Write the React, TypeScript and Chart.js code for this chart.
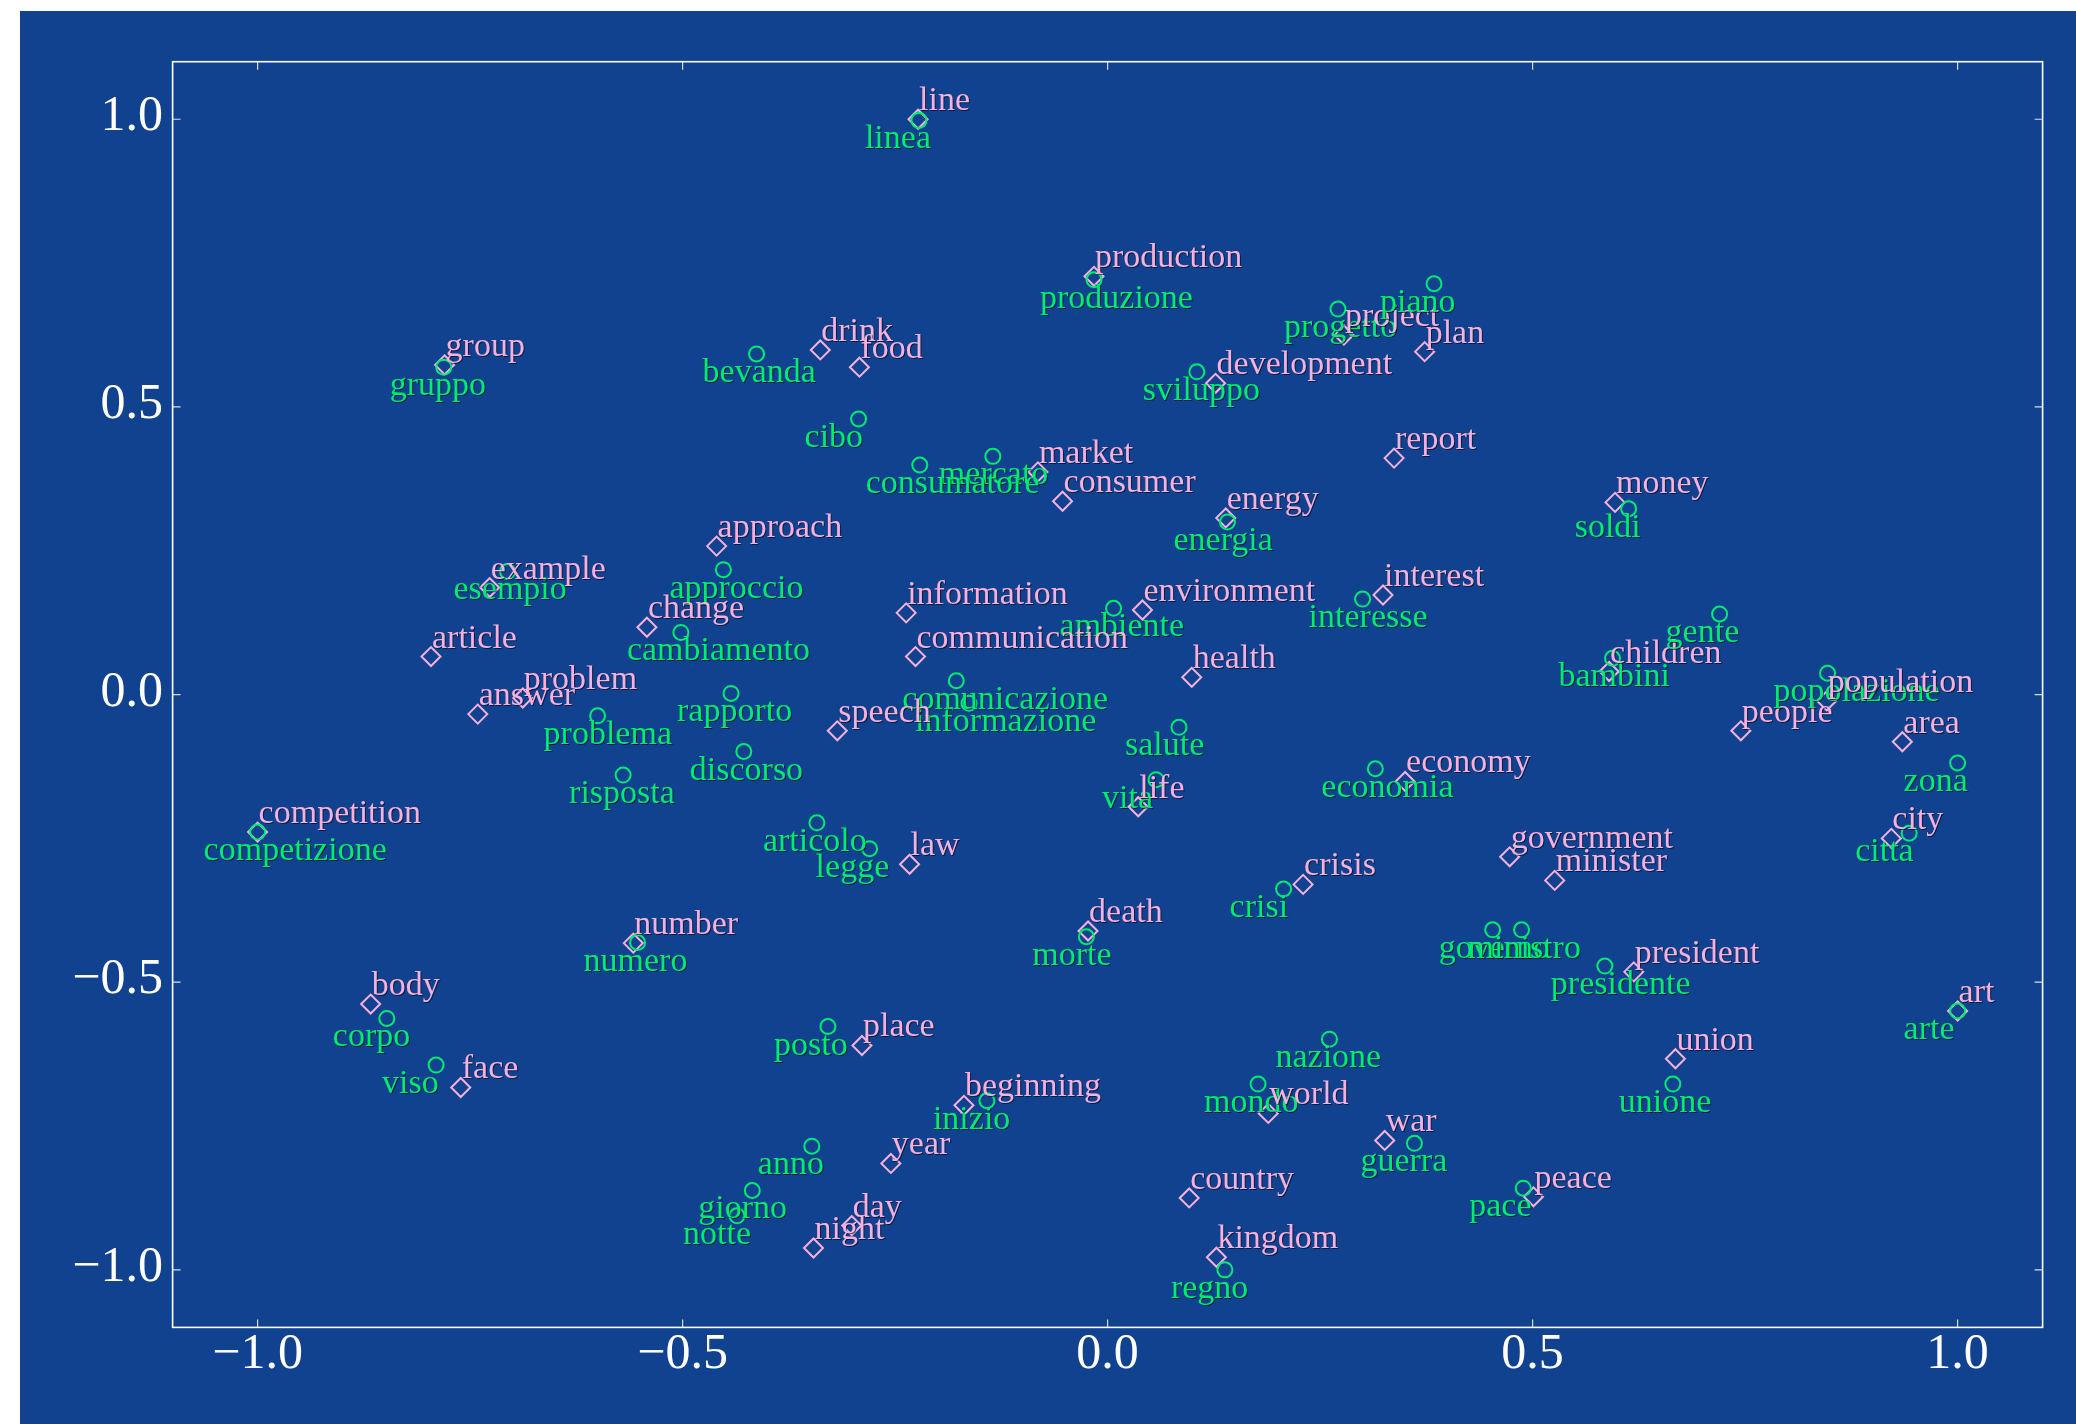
import React, { useEffect, useRef } from 'react';
import { Chart, registerables } from 'chart.js';

Chart.register(...registerables);

// English words (pink diamonds)
const englishWords = [
  'line', 'production', 'group', 'drink', 'food', 'project', 'plan', 'development', 'report',
  'market', 'consumer', 'energy', 'money', 'approach', 'example', 'change', 'information',
  'environment', 'interest', 'article', 'communication', 'health', 'children', 'problem',
  'answer', 'speech', 'people', 'population', 'area', 'economy', 'life', 'competition', 'city',
  'law', 'government', 'minister', 'crisis', 'death', 'number', 'president', 'body', 'art',
  'place', 'union', 'face', 'beginning', 'world', 'war', 'year', 'peace', 'country', 'day',
  'kingdom', 'night',
];
const englishX = [
  -0.223, -0.016, -0.780, -0.338, -0.292, 0.278, 0.373, 0.127, 0.337,
  -0.082, -0.053, 0.139, 0.597, -0.460, -0.727, -0.542, -0.237,
  0.041, 0.324, -0.796, -0.226, 0.099, 0.590, -0.688,
  -0.741, -0.318, 0.745, 0.846, 0.935, 0.350, 0.036, -1.000, 0.922,
  -0.233, 0.473, 0.526, 0.230, -0.023, -0.558, 0.619, -0.867, 1.000,
  -0.289, 0.668, -0.761, -0.169, 0.189, 0.326, -0.255, 0.501, 0.096, -0.301,
  0.128, -0.346,
];
const englishY = [
  1.000, 0.727, 0.573, 0.599, 0.569, 0.625, 0.596, 0.541, 0.411,
  0.387, 0.336, 0.307, 0.334, 0.258, 0.186, 0.117, 0.142,
  0.147, 0.173, 0.066, 0.066, 0.030, 0.040, -0.006,
  -0.034, -0.063, -0.063, -0.011, -0.082, -0.151, -0.195, -0.239, -0.250,
  -0.295, -0.282, -0.323, -0.330, -0.411, -0.432, -0.482, -0.538, -0.550,
  -0.610, -0.633, -0.683, -0.714, -0.728, -0.775, -0.815, -0.873, -0.875, -0.923,
  -0.978, -0.962,
];

// Italian words (green circles), same order as the English pairs
const italianWords = [
  'linea', 'produzione', 'gruppo', 'bevanda', 'cibo', 'progetto', 'piano', 'sviluppo', 'rapporto',
  'mercato', 'consumatore', 'energia', 'soldi', 'approccio', 'esempio', 'cambiamento', 'informazione',
  'ambiente', 'interesse', 'articolo', 'comunicazione', 'salute', 'bambini', 'problema',
  'risposta', 'discorso', 'gente', 'popolazione', 'zona', 'economia', 'vita', 'competizione', 'citta',
  'legge', 'governo', 'ministro', 'crisi', 'morte', 'numero', 'presidente', 'corpo', 'arte',
  'posto', 'unione', 'viso', 'inizio', 'mondo', 'guerra', 'anno', 'pace', 'nazione', 'giorno',
  'regno', 'notte',
];
const italianX = [
  -0.222, -0.016, -0.781, -0.413, -0.293, 0.271, 0.384, 0.105, -0.443,
  -0.135, -0.221, 0.141, 0.613, -0.452, -0.706, -0.502, -0.163,
  0.007, 0.300, -0.342, -0.178, 0.084, 0.594, -0.600,
  -0.570, -0.428, 0.720, 0.847, 1.000, 0.315, 0.057, -1.000, 0.943,
  -0.280, 0.453, 0.487, 0.207, -0.025, -0.553, 0.585, -0.848, 1.000,
  -0.329, 0.665, -0.790, -0.142, 0.177, 0.361, -0.348, 0.489, 0.261, -0.418,
  0.138, -0.436,
];
const italianY = [
  0.998, 0.721, 0.569, 0.592, 0.479, 0.670, 0.714, 0.561, 0.002,
  0.414, 0.399, 0.300, 0.323, 0.217, 0.214, 0.108, -0.015,
  0.150, 0.166, -0.223, 0.024, -0.057, 0.063, -0.037,
  -0.140, -0.099, 0.140, 0.037, -0.119, -0.129, -0.148, -0.239, -0.241,
  -0.268, -0.409, -0.409, -0.338, -0.421, -0.431, -0.472, -0.563, -0.550,
  -0.577, -0.677, -0.644, -0.706, -0.677, -0.780, -0.785, -0.858, -0.599, -0.862,
  -1.000, -0.906,
];

const tickValues = [-1.0, -0.5, 0.0, 0.5, 1.0];
const tickLabels = ['\u22121.0', '\u22120.5', '0.0', '0.5', '1.0'];
const axisMin = -1.1;
const axisMax = 1.1;

const BG = '#10428f';
const PINK = '#f6b0de';
const GREEN = '#00ec72';
const FONT = '"Liberation Serif", "Times New Roman", serif';

const wordLabelsPlugin = {
  id: 'wordLabels',
  afterDatasetsDraw(chart: any) {
    const { ctx, scales } = chart;
    const xs = scales.x;
    const ys = scales.y;
    ctx.save();
    ctx.font = `34px ${FONT}`;
    ctx.textBaseline = 'alphabetic';
    ctx.textAlign = 'left';
    ctx.shadowColor = 'rgba(0,0,0,0.55)';
    ctx.shadowOffsetX = 1;
    ctx.shadowOffsetY = 1;
    ctx.shadowBlur = 0;
    for (let i = 0; i < englishWords.length; i++) {
      const ix = xs.getPixelForValue(italianX[i]);
      const iy = ys.getPixelForValue(italianY[i]);
      ctx.fillStyle = GREEN;
      ctx.fillText(italianWords[i], ix - 54, iy + 28);
      const ex = xs.getPixelForValue(englishX[i]);
      const ey = ys.getPixelForValue(englishY[i]);
      ctx.fillStyle = PINK;
      ctx.fillText(englishWords[i], ex + 1, ey - 9);
    }
    ctx.restore();
  },
};

const framePlugin = {
  id: 'frameTicks',
  afterDraw(chart: any) {
    const { ctx, chartArea, scales } = chart;
    const { left, right, top, bottom } = chartArea;
    ctx.save();
    ctx.strokeStyle = '#dcdcdc';
    ctx.lineWidth = 1.2;
    const len = 8;
    ctx.beginPath();
    for (const v of tickValues) {
      const px = scales.x.getPixelForValue(v);
      ctx.moveTo(px, bottom);
      ctx.lineTo(px, bottom - len);
      ctx.moveTo(px, top);
      ctx.lineTo(px, top + len);
      const py = scales.y.getPixelForValue(v);
      ctx.moveTo(left, py);
      ctx.lineTo(left + len, py);
      ctx.moveTo(right, py);
      ctx.lineTo(right - len, py);
    }
    ctx.stroke();
    ctx.strokeStyle = '#ffffff';
    ctx.lineWidth = 1.6;
    ctx.strokeRect(left, top, right - left, bottom - top);
    ctx.restore();
  },
};

const CANVAS_W = 2056;
const CANVAS_H = 1413;

export default function App() {
  const canvasRef = useRef<HTMLCanvasElement | null>(null);

  useEffect(() => {
    if (!canvasRef.current) return;
    const englishData = englishX.map((x, i) => ({ x, y: englishY[i] }));
    const italianData = italianX.map((x, i) => ({ x, y: italianY[i] }));
    const tickFont = { family: FONT, size: 50, lineHeight: 1 };
    const chart = new Chart(canvasRef.current, {
      type: 'scatter',
      data: {
        datasets: [
          {
            label: 'Italian',
            data: italianData,
            pointStyle: 'circle',
            pointRadius: 7.5,
            pointHoverRadius: 7.5,
            borderColor: GREEN,
            backgroundColor: 'rgba(0,0,0,0)',
            borderWidth: 2,
          },
          {
            label: 'English',
            data: englishData,
            pointStyle: 'rectRot',
            pointRadius: 9.5,
            pointHoverRadius: 9.5,
            borderColor: PINK,
            backgroundColor: 'rgba(0,0,0,0)',
            borderWidth: 2,
          },
        ],
      },
      options: {
        responsive: false,
        animation: false,
        devicePixelRatio: 1,
        events: [],
        layout: { padding: { left: 0, top: 50.7, right: 33.4, bottom: 0 } },
        plugins: {
          legend: { display: false },
          tooltip: { enabled: false },
        },
        scales: {
          x: {
            type: 'linear',
            min: axisMin,
            max: axisMax,
            afterBuildTicks: (s: any) => {
              s.ticks = tickValues.map((v) => ({ value: v }));
            },
            afterFit: (s: any) => {
              s.height = 96.6;
            },
            grid: { display: false, drawTicks: false },
            border: { display: false },
            ticks: {
              callback: (_v: any, i: number) => tickLabels[i],
              color: '#ffffff',
              font: tickFont,
              padding: 2,
              maxRotation: 0,
              autoSkip: false,
            },
          },
          y: {
            type: 'linear',
            min: axisMin,
            max: axisMax,
            afterBuildTicks: (s: any) => {
              s.ticks = tickValues.map((v) => ({ value: v }));
            },
            afterFit: (s: any) => {
              s.width = 152.6;
            },
            grid: { display: false, drawTicks: false },
            border: { display: false },
            ticks: {
              callback: (_v: any, i: number) => tickLabels[i],
              color: '#ffffff',
              font: tickFont,
              padding: 9.6,
              labelOffset: -2,
              autoSkip: false,
            },
          },
        },
      },
      plugins: [wordLabelsPlugin, framePlugin],
    } as any);
    return () => chart.destroy();
  }, []);

  return (
    <div
      style={{
        position: 'absolute',
        left: 20,
        top: 11,
        width: CANVAS_W,
        height: CANVAS_H,
        background: BG,
      }}
    >
      <canvas ref={canvasRef} width={CANVAS_W} height={CANVAS_H} style={{ display: 'block' }} />
    </div>
  );
}
